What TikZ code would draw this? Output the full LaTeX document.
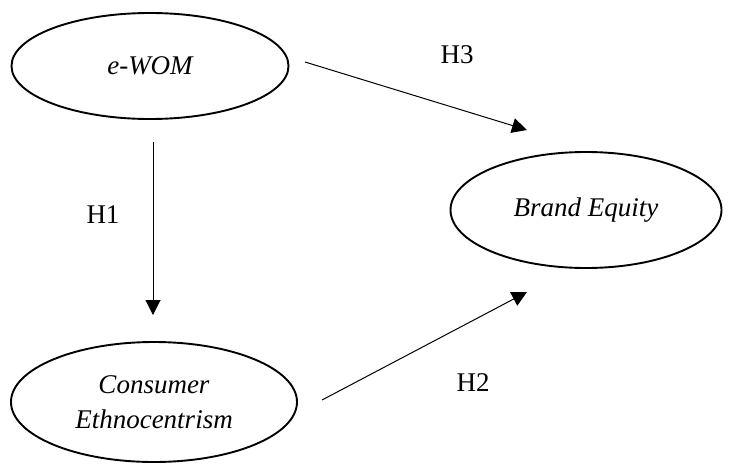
\documentclass[tikz,border=0pt]{standalone}
\usepackage{fontspec}
\setmainfont{Liberation Serif}
\usetikzlibrary{arrows.meta,shapes.geometric}
\begin{document}
\begin{tikzpicture}[x=1pt,y=-1pt,
  construct/.style={draw,line width=1.9pt,ellipse,inner sep=0pt,font=\fontsize{27}{35}\selectfont\itshape,align=center},
  connarrow/.style={line width=1pt,-{Triangle[width=15pt,length=15pt]}},
  hlabel/.style={font=\fontsize{27}{30}\selectfont}]
\useasboundingbox (0,0) rectangle (730,463);
\node[construct,minimum width=277pt,minimum height=106pt] (ewom) at (150,66) {e-WOM};
\node[construct,minimum width=286pt,minimum height=120pt] (cons) at (154,402) {Consumer\\Ethnocentrism};
\node[construct,minimum width=271pt,minimum height=116pt] (brand) at (586,210) {Brand Equity};
\coordinate (h1s) at (153,142);
\coordinate (h1e) at (153,315);
\coordinate (h3s) at (305,62);
\coordinate (h3e) at (527,130);
\coordinate (h2s) at (322,400);
\coordinate (h2e) at (527,292);
\draw[connarrow] (h1s) -- (h1e);
\draw[connarrow] (h3s) -- (h3e);
\draw[connarrow] (h2s) -- (h2e);
\node[hlabel] (lh1) at (103,215) {H1};
\node[hlabel] (lh3) at (457,55) {H3};
\node[hlabel] (lh2) at (473,383) {H2};
\end{tikzpicture}
\end{document}
